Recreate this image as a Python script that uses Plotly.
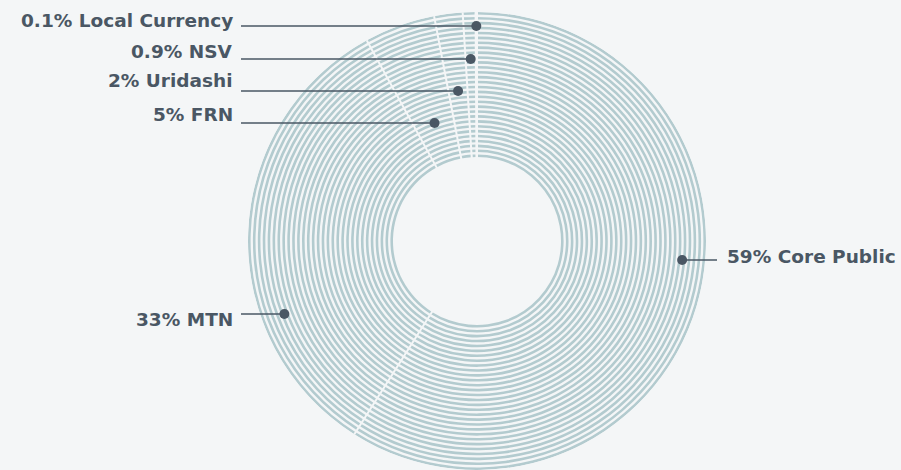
import math
import plotly.graph_objects as go

# Funding mix by programme (percent of total)
categories = ["Core Public", "MTN", "FRN", "Uridashi", "NSV", "Local Currency"]
shares = [59, 33, 5, 2, 0.9, 0.1]

# ---- geometry (pixels) ----
W, H = 901, 470
CX, CY = 477, 241          # donut centre
R_IN, R_OUT = 84, 229      # inner / outer edge of the ring bundle
N_RINGS = 30
STROKE = 2.6
PITCH = (R_OUT - STROKE - R_IN) / (N_RINGS - 1)

BG = "#f4f6f7"
RING = "#b3cbcf"
INK = "#4a5764"
FONT = "DejaVu Sans"
FONT_SIZE = 18.5

# cumulative angles (clockwise from 12 o'clock)
bounds = [0.0]
for s in shares:
    bounds.append(bounds[-1] + s * 3.6)
mids = [(a + b) / 2 for a, b in zip(bounds[:-1], bounds[1:])]
widths = [s * 3.6 for s in shares]

# one bar per ring per slice
th, wd, base, rr = [], [], [], []
for k in range(N_RINGS):
    r0 = R_IN + k * PITCH
    for m, w in zip(mids, widths):
        th.append(m)
        wd.append(w)
        base.append(r0)
        rr.append(STROKE)

fig = go.Figure()
fig.add_trace(go.Barpolar(
    theta=th, width=wd, base=base, r=rr,
    marker=dict(color=RING, line=dict(width=0)),
    hoverinfo="skip", showlegend=False,
))

# white separators between slices
sep_r, sep_t = [], []
for a in bounds[:-1]:
    sep_r += [R_IN - 2, R_OUT + 2, None]
    sep_t += [a, a, None]
fig.add_trace(go.Scatterpolar(
    r=sep_r, theta=sep_t, mode="lines",
    line=dict(color=BG, width=2), cliponaxis=False,
    hoverinfo="skip", showlegend=False,
))

# label layout: leader-line y, text centre y (px), side, dot radius
# (dot radius None -> dot sits at the slice's middle angle)
label_rows = {
    "Core Public": (260, 256, "right", 206),
    "MTN": (314, 319, "left", 206),
    "FRN": (123, 114, "left", None),
    "Uridashi": (91, 81, "left", None),
    "NSV": (59, 51.5, "left", None),
    "Local Currency": (26, 20.5, "left", None),
}


def fmt(v):
    return "%g" % v


dot_r, dot_t = [], []
shapes, annotations = [], []
for name, share, mid in zip(categories, shares, mids):
    ly, ty, side, rdot = label_rows[name]
    if rdot is None:
        ang = mid
        r = (CY - ly) / math.cos(math.radians(ang))
    else:
        r = rdot
        a = math.degrees(math.acos((CY - ly) / r))
        ang = a if side == "right" else 360 - a
    dx = CX + r * math.sin(math.radians(ang))
    dot_r.append(r)
    dot_t.append(ang)
    if side == "left":
        x0, x1 = 241, dx
        tx, anchor = 235, "right"
    else:
        x0, x1 = dx, 717
        tx, anchor = 725, "left"
    shapes.append(dict(
        type="line", xref="paper", yref="paper",
        x0=x0 / W, x1=x1 / W, y0=1 - ly / H, y1=1 - ly / H,
        line=dict(color=INK, width=1.5),
    ))
    annotations.append(dict(
        xref="paper", yref="paper", x=tx / W, y=1 - ty / H,
        xanchor=anchor, yanchor="middle", showarrow=False,
        text=f"{fmt(share)}% {name}",
        font=dict(family=FONT, size=FONT_SIZE, color=INK, weight=700),
    ))

fig.add_trace(go.Scatterpolar(
    r=dot_r, theta=dot_t, mode="markers",
    marker=dict(color=INK, size=10), cliponaxis=False,
    hoverinfo="skip", showlegend=False,
))

fig.update_layout(
    width=W, height=H,
    margin=dict(l=0, r=0, t=0, b=0),
    paper_bgcolor=BG, plot_bgcolor=BG,
    showlegend=False,
    shapes=shapes, annotations=annotations,
    polar=dict(
        domain=dict(x=[(CX - R_OUT) / W, (CX + R_OUT) / W],
                    y=[(H - CY - R_OUT) / H, (H - CY + R_OUT) / H]),
        bgcolor="rgba(0,0,0,0)",
        radialaxis=dict(range=[0, R_OUT], visible=False, showgrid=False),
        angularaxis=dict(rotation=90, direction="clockwise", visible=False,
                         showgrid=False),
    ),
)

fig.write_html("out.html")
